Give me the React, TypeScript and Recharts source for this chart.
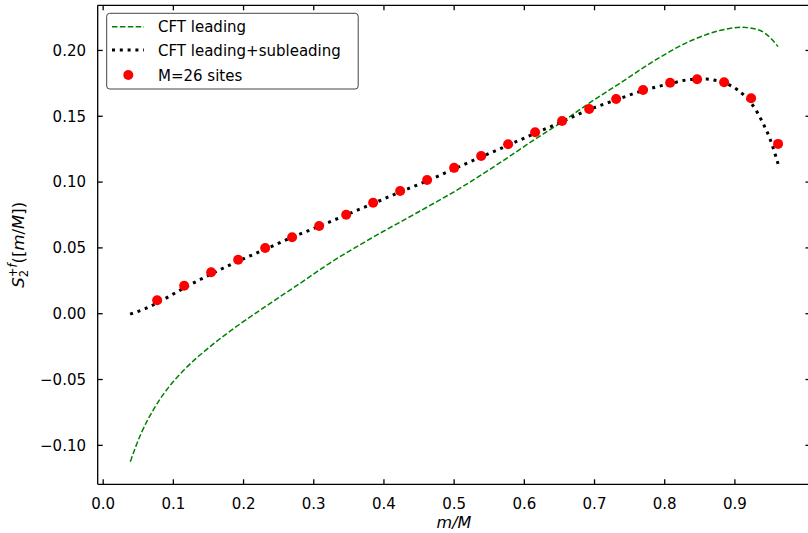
import React from 'react';
import { ComposedChart, Line, Scatter, XAxis, YAxis } from 'recharts';

// CFT leading (green dashed)
const leadingX = [0.0387, 0.0465, 0.0543, 0.0733, 0.0947, 0.1184, 0.154, 0.1968, 0.2395, 0.2847, 0.3225, 0.384, 0.4458, 0.512, 0.569, 0.6165, 0.6543, 0.6923, 0.7397, 0.787, 0.8346, 0.882, 0.91, 0.934, 0.951, 0.9615];
const leadingY = [-0.1124, -0.1008, -0.0907, -0.0714, -0.0549, -0.041, -0.0243, -0.0071, 0.0084, 0.0246, 0.0383, 0.058, 0.0763, 0.0965, 0.116, 0.133, 0.1459, 0.1599, 0.1763, 0.1928, 0.2067, 0.2156, 0.2176, 0.2156, 0.2093, 0.2029];

// CFT leading + subleading (black dotted)
const subX = [0.0384, 0.0484, 0.0598, 0.077, 0.115, 0.154, 0.192, 0.231, 0.269, 0.308, 0.346, 0.385, 0.423, 0.462, 0.5, 0.538, 0.577, 0.615, 0.654, 0.692, 0.731, 0.769, 0.808, 0.835, 0.859, 0.872, 0.895, 0.914, 0.929, 0.94, 0.95, 0.958, 0.9615];
const subY = [-0.0003, 0.0015, 0.0038, 0.0082, 0.0195, 0.0302, 0.0398, 0.049, 0.058, 0.0665, 0.075, 0.0838, 0.0925, 0.101, 0.11, 0.119, 0.128, 0.137, 0.146, 0.155, 0.1625, 0.1695, 0.1748, 0.1778, 0.1783, 0.1773, 0.173, 0.1654, 0.1555, 0.1447, 0.1328, 0.12, 0.1138];

// M=26 sites (red points), m = 2..25
const siteX = [0.0769, 0.1154, 0.1538, 0.1923, 0.2308, 0.2692, 0.3077, 0.3462, 0.3846, 0.4231, 0.4615, 0.5, 0.5385, 0.5769, 0.6154, 0.6538, 0.6923, 0.7308, 0.7692, 0.8077, 0.8462, 0.8846, 0.9231, 0.9615];
const siteY = [0.0102, 0.0212, 0.0315, 0.041, 0.0499, 0.0581, 0.0666, 0.0752, 0.0843, 0.0932, 0.1016, 0.1108, 0.1198, 0.1288, 0.1378, 0.1464, 0.1555, 0.1631, 0.17, 0.1755, 0.1781, 0.1758, 0.1637, 0.129];

const xTicks = [0, 0.1, 0.2, 0.3, 0.4, 0.5, 0.6, 0.7, 0.8, 0.9];
const yTicks = [-0.1, -0.05, 0, 0.05, 0.1, 0.15, 0.2];

const X_DOMAIN: [number, number] = [-0.0078, 1.0077];
const Y_DOMAIN: [number, number] = [-0.1296, 0.2343];

const leadingData = leadingX.map((x, i) => ({ x, y: leadingY[i] }));
const subData = subX.map((x, i) => ({ x, y: subY[i] }));
const siteData = siteX.map((x, i) => ({ x, y: siteY[i] }));

const FONT = 'DejaVu Sans';
const fmtX = (v: number) => v.toFixed(1);
const fmtY = (v: number) => (v < 0 ? '\u2212' + Math.abs(v).toFixed(2) : v.toFixed(2));
const empty = () => '';

const tickStyle = { fontFamily: FONT, fontSize: 15, fill: '#000' };
const lineStyle = { stroke: '#000', strokeWidth: 1.3 };

const Dot = (props: any) => {
  const { cx, cy } = props;
  if (cx == null || cy == null) return null;
  return <circle cx={cx} cy={cy} r={5} fill="#ff0000" />;
};

export default function App() {
  return (
    <div style={{ position: 'fixed', left: 0, top: 0, width: 808, height: 533, overflow: 'hidden', background: '#fff' }}>
      <ComposedChart width={820} height={533} margin={{ top: 0, right: 0, bottom: 0, left: 0 }}>
        <XAxis
          xAxisId={0}
          type="number"
          dataKey="x"
          domain={X_DOMAIN}
          allowDataOverflow
          ticks={xTicks}
          tickFormatter={fmtX}
          orientation="bottom"
          height={48.7}
          tickSize={-5}
          tickMargin={18.7}
          tick={tickStyle}
          axisLine={lineStyle}
          tickLine={lineStyle}
          interval={0}
        />
        <XAxis
          xAxisId="top"
          type="number"
          dataKey="x"
          domain={X_DOMAIN}
          allowDataOverflow
          ticks={xTicks}
          tickFormatter={empty}
          orientation="top"
          height={5.3}
          tickSize={-5}
          axisLine={lineStyle}
          tickLine={lineStyle}
          interval={0}
        />
        <YAxis
          yAxisId={0}
          type="number"
          dataKey="y"
          domain={Y_DOMAIN}
          allowDataOverflow
          ticks={yTicks}
          tickFormatter={fmtY}
          width={97.7}
          tickSize={-5}
          tickMargin={16.7}
          tick={tickStyle}
          axisLine={lineStyle}
          tickLine={lineStyle}
          interval={0}
        />
        <YAxis
          yAxisId="right"
          type="number"
          dataKey="y"
          orientation="right"
          domain={Y_DOMAIN}
          allowDataOverflow
          ticks={yTicks}
          tickFormatter={empty}
          width={9.5}
          tickSize={-5}
          axisLine={lineStyle}
          tickLine={lineStyle}
          interval={0}
        />
        <Scatter
          data={siteData}
          dataKey="y"
          xAxisId={0}
          yAxisId={0}
          shape={Dot}
          fill="#ff0000"
          isAnimationActive={false}
        />
        <Line
          data={leadingData}
          dataKey="y"
          xAxisId={0}
          yAxisId={0}
          type="monotone"
          stroke="#008000"
          strokeWidth={1.5}
          strokeDasharray="5.5 2.4"
          dot={false}
          activeDot={false}
          isAnimationActive={false}
        />
        <Line
          data={subData}
          dataKey="y"
          xAxisId={0}
          yAxisId={0}
          type="monotone"
          stroke="#000"
          strokeWidth={3}
          strokeDasharray="3 4.8"
          dot={false}
          activeDot={false}
          isAnimationActive={false}
        />
      </ComposedChart>
      <svg width={808} height={533} style={{ position: 'absolute', left: 0, top: 0, pointerEvents: 'none' }}>
        <text
          transform="translate(24,244.8) rotate(-90)"
          textAnchor="middle"
          fontFamily={FONT}
          fontSize={16.5}
          fill="#000"
        >
          <tspan fontStyle="italic">S</tspan>
          <tspan fontSize={11.5} dy={4}>2</tspan>
          <tspan fontSize={11.5} dx={-7.2} dy={-11.5}>+</tspan>
          <tspan fontSize={11.5} fontStyle="italic">f</tspan>
          <tspan dy={7.5}>([</tspan>
          <tspan fontStyle="italic">m</tspan>
          <tspan>/</tspan>
          <tspan fontStyle="italic">M</tspan>
          <tspan>])</tspan>
        </text>
        <text x={454} y={528} textAnchor="middle" fontFamily={FONT} fontSize={16} fontStyle="italic" fill="#000">
          m/M
        </text>
        <rect x={106.7} y={13.3} width={251.5} height={75.7} rx={3} fill="#fff" stroke="#444" strokeWidth={1} />
        <line x1={112} y1={26.7} x2={144} y2={26.7} stroke="#008000" strokeWidth={1.5} strokeDasharray="5.5 2.4" />
        <text x={158} y={32.2} fontFamily={FONT} fontSize={15} fill="#000">CFT leading</text>
        <line x1={112} y1={50} x2={144} y2={50} stroke="#000" strokeWidth={3} strokeDasharray="3 4.8" />
        <text x={158} y={55.5} fontFamily={FONT} fontSize={15} fill="#000">CFT leading+subleading</text>
        <circle cx={128.3} cy={75} r={5} fill="#ff0000" />
        <text x={158} y={80.5} fontFamily={FONT} fontSize={15} fill="#000">M=26 sites</text>
      </svg>
    </div>
  );
}
